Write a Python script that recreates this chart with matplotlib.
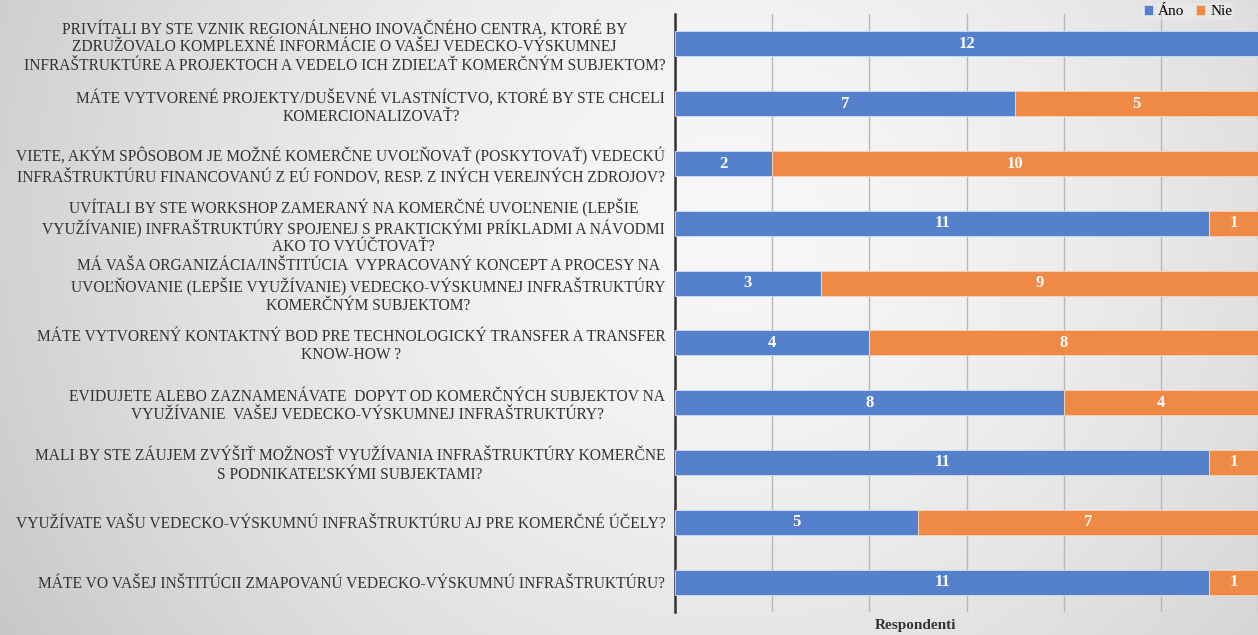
import numpy as np
import matplotlib
matplotlib.use("Agg")
import matplotlib.pyplot as plt

plt.rcParams['font.family'] = ['Liberation Serif', 'DejaVu Serif']

questions = [
    "PRIVÍTALI BY STE VZNIK REGIONÁLNEHO INOVAČNÉHO CENTRA, KTORÉ BY\nZDRUŽOVALO KOMPLEXNÉ INFORMÁCIE O VAŠEJ VEDECKO-VÝSKUMNEJ\nINFRAŠTRUKTÚRE A PROJEKTOCH A VEDELO ICH ZDIEĽAŤ KOMERČNÝM SUBJEKTOM?",
    "MÁTE VYTVORENÉ PROJEKTY/DUŠEVNÉ VLASTNÍCTVO, KTORÉ BY STE CHCELI\nKOMERCIONALIZOVAŤ?",
    "VIETE, AKÝM SPÔSOBOM JE MOŽNÉ KOMERČNE UVOĽŇOVAŤ (POSKYTOVAŤ) VEDECKÚ\nINFRAŠTRUKTÚRU FINANCOVANÚ Z EÚ FONDOV, RESP. Z INÝCH VEREJNÝCH ZDROJOV?",
    "UVÍTALI BY STE WORKSHOP ZAMERANÝ NA KOMERČNÉ UVOĽNENIE (LEPŠIE\nVYUŽÍVANIE) INFRAŠTRUKTÚRY SPOJENEJ S PRAKTICKÝMI PRÍKLADMI A NÁVODMI\nAKO TO VYÚČTOVAŤ?",
    "MÁ VAŠA ORGANIZÁCIA/INŠTITÚCIA  VYPRACOVANÝ KONCEPT A PROCESY NA\nUVOĽŇOVANIE (LEPŠIE VYUŽÍVANIE) VEDECKO-VÝSKUMNEJ INFRAŠTRUKTÚRY\nKOMERČNÝM SUBJEKTOM?",
    "MÁTE VYTVORENÝ KONTAKTNÝ BOD PRE TECHNOLOGICKÝ TRANSFER A TRANSFER\nKNOW-HOW ?",
    "EVIDUJETE ALEBO ZAZNAMENÁVATE  DOPYT OD KOMERČNÝCH SUBJEKTOV NA\nVYUŽÍVANIE  VAŠEJ VEDECKO-VÝSKUMNEJ INFRAŠTRUKTÚRY?",
    "MALI BY STE ZÁUJEM ZVÝŠIŤ MOŽNOSŤ VYUŽÍVANIA INFRAŠTRUKTÚRY KOMERČNE\nS PODNIKATEĽSKÝMI SUBJEKTAMI?",
    "VYUŽÍVATE VAŠU VEDECKO-VÝSKUMNÚ INFRAŠTRUKTÚRU AJ PRE KOMERČNÉ ÚČELY?",
    "MÁTE VO VAŠEJ INŠTITÚCII ZMAPOVANÚ VEDECKO-VÝSKUMNÚ INFRAŠTRUKTÚRU?",
]
ano = [12, 7, 2, 11, 3, 4, 8, 11, 5, 11]
nie = [0, 5, 10, 1, 9, 8, 4, 1, 7, 1]
series_names = ["Áno", "Nie"]
xlabel = "Respondenti"

BLUE = "#5580cc"
ORANGE = "#ee8a45"

fig = plt.figure(figsize=(12.58, 6.35), dpi=100)

# background gradient (light in the middle, grey towards the edges)
bg = fig.add_axes([0, 0, 1, 1], zorder=-2)
xx, yy = np.meshgrid(np.linspace(0, 1, 400), np.linspace(0, 1, 200))
d = np.sqrt(((xx - 0.58) / 0.75) ** 2 + ((yy - 0.35) / 1.4) ** 2)
shade = 0.97 - 0.22 * d ** 1.6
bg.imshow(np.dstack([shade] * 3), aspect="auto", extent=[0, 1, 0, 1],
          interpolation="bilinear", vmin=0, vmax=1)
bg.axis("off")

ax = fig.add_axes([675 / 1258, 1 - 612 / 635, 583 / 1258, 598 / 635])
ax.patch.set_alpha(0)

y = np.arange(len(questions))
h = 0.42
ax.barh(y, ano, height=h, color=BLUE, edgecolor="#cfe0f5", linewidth=0.6,
        label=series_names[0], zorder=3)
ax.barh(y, nie, left=ano, height=h, color=ORANGE, edgecolor="#f5d7c0",
        linewidth=0.6, label=series_names[1], zorder=3)

for i in range(len(questions)):
    if ano[i] > 0:
        ax.text(ano[i] / 2, i, str(ano[i]), ha="center", va="center",
                color="white", fontsize=12, fontweight="bold", zorder=4)
    if nie[i] > 0:
        ax.text(ano[i] + nie[i] / 2, i, str(nie[i]), ha="center", va="center",
                color="white", fontsize=12, fontweight="bold", zorder=4)

ax.set_xlim(0, 12)
ax.set_ylim(len(questions) - 0.5, -0.5)
ax.set_xticks(range(0, 13, 2))
ax.set_xticklabels([])
ax.tick_params(axis="x", length=0)
ax.grid(axis="x", color="#b8b8b8", linewidth=1, zorder=0)
ax.set_yticks(y)
ax.set_yticklabels(questions, fontsize=11.2, color="#333333",
                   multialignment="center", linespacing=1.18)
ax.tick_params(axis="y", length=0, pad=7)
for s in ["top", "right", "bottom"]:
    ax.spines[s].set_visible(False)
ax.spines["left"].set_color("#333333")
ax.spines["left"].set_linewidth(1.8)

fig.text(915 / 1258, 1 - 625 / 635, xlabel, ha="center", va="center",
         fontsize=11, fontweight="bold", color="#333333")

fig.legend(loc="upper center", bbox_to_anchor=(1188 / 1258, 1.008), ncol=2,
           frameon=True, fontsize=11, handlelength=0.6, handleheight=0.6,
           columnspacing=0.8, handletextpad=0.3, framealpha=0.5,
           edgecolor="none", facecolor="#eeeeee", borderpad=0.15)

fig.savefig("out.png", dpi=100)
